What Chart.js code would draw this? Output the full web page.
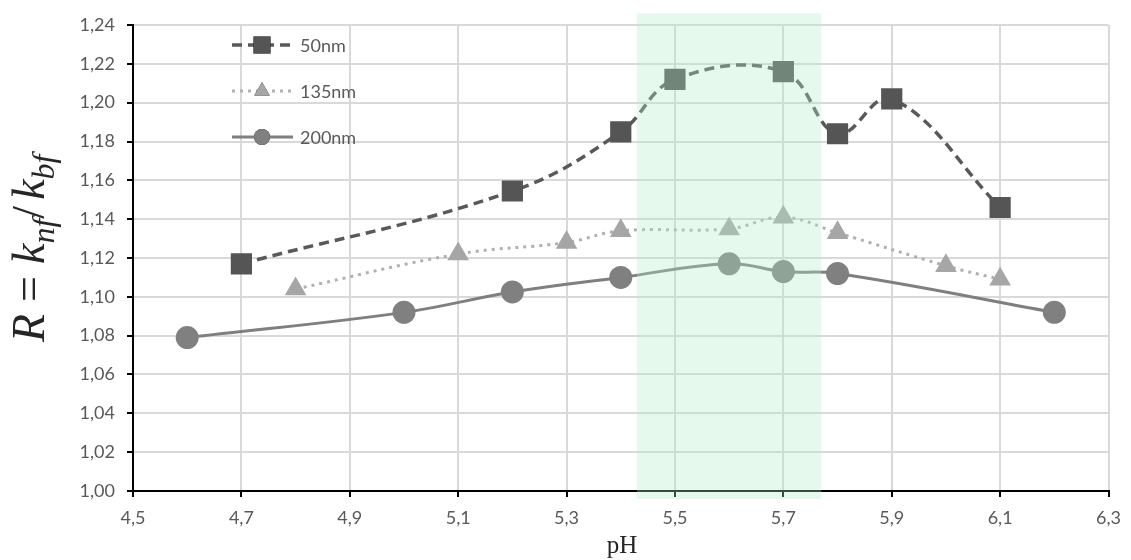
<!DOCTYPE html>
<html>
<head>
<meta charset="utf-8">
<script src="https://cdn.jsdelivr.net/npm/chart.js@4/dist/chart.umd.min.js"></script>
<style>
  html, body { margin: 0; padding: 0; background: #fff; }
  #wrap { width: 1131px; height: 560px; }
</style>
</head>
<body>
<div id="wrap"><canvas id="c" width="1131" height="560"></canvas></div>
<script>
// tick labels
const xTicks = [4.5, 4.7, 4.9, 5.1, 5.3, 5.5, 5.7, 5.9, 6.1, 6.3];
const yTicks = [1.00, 1.02, 1.04, 1.06, 1.08, 1.10, 1.12, 1.14, 1.16, 1.18, 1.20, 1.22, 1.24];

// series (pH, R)
const ph50 = [4.7, 5.2, 5.4, 5.5, 5.7, 5.8, 5.9, 6.1];
const r50 = [1.117, 1.1545, 1.185, 1.212, 1.216, 1.184, 1.202, 1.146];
const ph135 = [4.8, 5.1, 5.3, 5.4, 5.6, 5.7, 5.8, 6.0, 6.1];
const r135 = [1.104, 1.122, 1.128, 1.134, 1.135, 1.141, 1.133, 1.116, 1.109];
const ph200 = [4.6, 5.0, 5.2, 5.4, 5.6, 5.7, 5.8, 6.2];
const r200 = [1.079, 1.092, 1.1025, 1.110, 1.117, 1.113, 1.112, 1.092];

// highlighted pH band
const bandFrom = 5.43;
const bandTo = 5.77;
const bandTop = 1.246;

const labelColor = "#595959";
const gridColor = "#d9d9d9";

const pts = (xs, ys) => xs.map((x, i) => ({ x: x, y: ys[i] }));

const bandPlugin = {
  id: "band",
  afterDatasetsDraw(chart) {
    const ctx = chart.ctx;
    const x = chart.scales.x, y = chart.scales.y;
    const x0 = x.getPixelForValue(bandFrom);
    const x1 = x.getPixelForValue(bandTo);
    const y0 = y.getPixelForValue(bandTop);
    const y1 = y.getPixelForValue(yTicks[0]) + 8;
    ctx.save();
    ctx.fillStyle = "rgba(174, 239, 200, 0.32)";
    ctx.fillRect(x0, y0, x1 - x0, y1 - y0);
    ctx.restore();
  }
};

const legendPlugin = {
  id: "insideLegend",
  afterDraw(chart) {
    const ctx = chart.ctx;
    const rows = [45, 91, 137];
    const sizes = [12, 9, 8];
    chart.data.datasets.forEach((ds, i) => {
      const cy = rows[i];
      ctx.save();
      ctx.strokeStyle = ds.borderColor;
      ctx.lineWidth = ds.borderWidth;
      ctx.setLineDash(ds.borderDash || []);
      ctx.beginPath();
      ctx.moveTo(232, cy);
      ctx.lineTo(293, cy);
      ctx.stroke();
      ctx.setLineDash([]);
      Chart.helpers.drawPoint(ctx, {
        pointStyle: ds.pointStyle,
        radius: sizes[i],
        borderWidth: 0,
        rotation: 0
      }, 262, cy);
      ctx.fillStyle = ds.pointBackgroundColor;
      ctx.fill();
      ctx.fillStyle = labelColor;
      ctx.font = "18px Lato";
      ctx.textBaseline = "middle";
      ctx.fillText(ds.label, 300, cy + 1);
      ctx.restore();
    });
  }
};

const titlesPlugin = {
  id: "axisTitles",
  afterDraw(chart) {
    const ctx = chart.ctx;
    ctx.save();
    ctx.fillStyle = "#262626";
    // x title
    ctx.font = "25px 'Liberation Serif'";
    ctx.textAlign = "center";
    ctx.textBaseline = "alphabetic";
    ctx.fillText("pH", 622, 553);
    // y title, rotated, with subscripts
    ctx.translate(44, 342);
    ctx.rotate(-Math.PI / 2);
    ctx.textAlign = "left";
    const big = "italic 46px 'Liberation Serif'";
    const bigUp = "46px 'Liberation Serif'";
    const small = "italic 32px 'Liberation Serif'";
    const parts = [
      ["R", big, 0, 12],
      ["=", bigUp, 0, 12],
      ["k", big, 0, 0],
      ["nf", small, 10, 0],
      ["/", bigUp, 0, 6],
      ["k", big, 0, 0],
      ["bf", small, 10, 0]
    ];
    let px = 0;
    parts.forEach((p) => {
      ctx.font = p[1];
      ctx.fillText(p[0], px, p[2]);
      px += ctx.measureText(p[0]).width + p[3];
    });
    ctx.restore();
  }
};

new Chart(document.getElementById("c"), {
  type: "scatter",
  data: {
    datasets: [
      {
        label: "50nm",
        data: pts(ph50, r50),
        showLine: true,
        tension: 0.4,
        borderColor: "#595959",
        borderWidth: 3.5,
        borderDash: [10, 6],
        pointStyle: "rect",
        pointRadius: 15,
        pointBackgroundColor: "#555555",
        pointBorderWidth: 0
      },
      {
        label: "135nm",
        data: pts(ph135, r135),
        showLine: true,
        tension: 0.4,
        borderColor: "#b0b0b0",
        borderWidth: 3,
        borderDash: [3, 5],
        pointStyle: "triangle",
        pointRadius: 12.5,
        pointBackgroundColor: "#a6a6a6",
        pointBorderWidth: 0
      },
      {
        label: "200nm",
        data: pts(ph200, r200),
        showLine: true,
        tension: 0.4,
        borderColor: "#7f7f7f",
        borderWidth: 3,
        pointStyle: "circle",
        pointRadius: 11.5,
        pointBackgroundColor: "#808080",
        pointBorderWidth: 0
      }
    ]
  },
  options: {
    responsive: false,
    animation: false,
    layout: { padding: { top: 25, right: 20, left: 0, bottom: 0 } },
    plugins: {
      legend: { display: false },
      tooltip: { enabled: false }
    },
    scales: {
      x: {
        type: "linear",
        min: 4.5,
        max: 6.3,
        afterBuildTicks: (s) => { s.ticks = xTicks.map((v) => ({ value: v })); },
        afterFit: (s) => { s.height = 69; },
        ticks: {
          color: labelColor,
          font: { family: "Lato", size: 18 },
          padding: 10,
          maxRotation: 0,
          callback: (v) => v.toFixed(1).replace(".", ",")
        },
        grid: { color: gridColor, lineWidth: 2, tickLength: 6, tickColor: "#000", tickWidth: 2 },
        border: { color: "#000", width: 2 }
      },
      y: {
        min: 1.0,
        max: 1.24,
        afterBuildTicks: (s) => { s.ticks = yTicks.map((v) => ({ value: v })); },
        afterFit: (s) => { s.width = 133; },
        ticks: {
          color: labelColor,
          font: { family: "Lato", size: 18 },
          padding: 12,
          callback: (v) => v.toFixed(2).replace(".", ",")
        },
        grid: { color: gridColor, lineWidth: 2, tickLength: 6, tickColor: "#000", tickWidth: 2 },
        border: { color: "#000", width: 2 }
      }
    }
  },
  plugins: [bandPlugin, legendPlugin, titlesPlugin]
});
</script>
</body>
</html>
